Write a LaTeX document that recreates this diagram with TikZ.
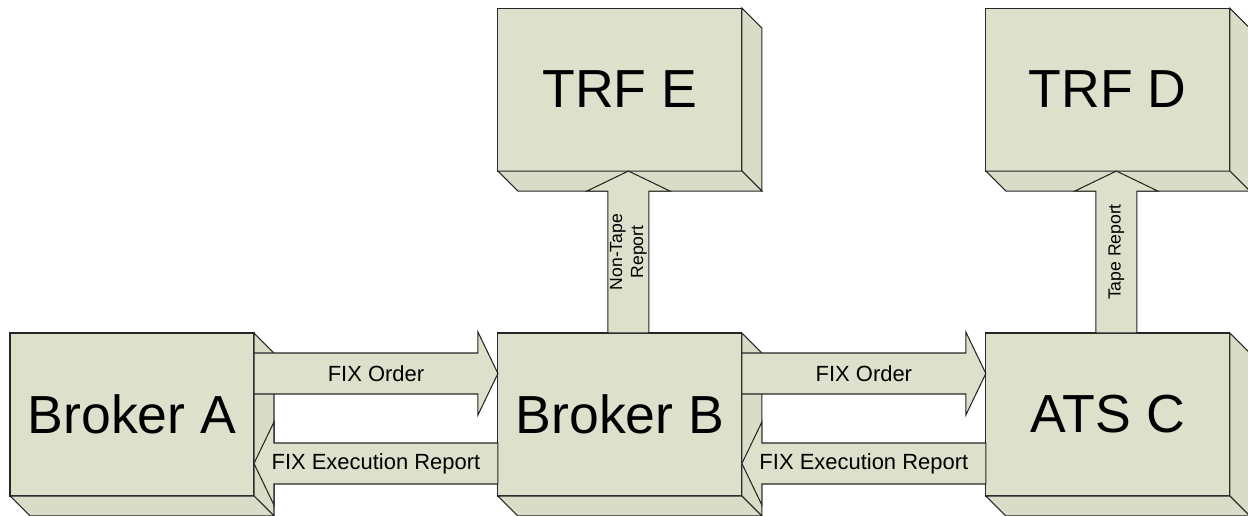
\documentclass[tikz,border=0pt]{standalone}
\usepackage{fontspec}
\setmainfont{Liberation Sans}
\usetikzlibrary{positioning,calc}

\definecolor{boxface}{RGB}{221,224,203}
\definecolor{boxside}{RGB}{217,221,200}

\begin{document}
\begin{tikzpicture}[
  x=0.02cm, y=-0.02cm,
  boxnode/.style={draw=black!85, fill=boxface, line width=0.6pt, minimum width=4.88cm, minimum height=3.26cm, inner sep=0pt, outer sep=0pt, font=\fontsize{30.5}{36}\selectfont},
  sideface/.style={draw=black!85, fill=boxside, line width=0.6pt},
  fatarrow/.style={draw=black!85, fill=boxface, line width=0.6pt},
  arrowtext/.style={font=\fontsize{12.5}{15}\selectfont, inner sep=0pt},
  vtext/.style={font=\fontsize{10}{12}\selectfont, inner sep=0pt, rotate=90, align=center}
]
  \useasboundingbox (0,0) rectangle (1248,516);

  \node[boxnode] (brokerA) at (132,414.5) {Broker A};
  \node[boxnode, right=4.88cm of brokerA] (brokerB) {Broker B};
  \node[boxnode, right=4.88cm of brokerB] (atsC) {ATS C};
  \node[boxnode, above=3.24cm of brokerB] (trfE) {TRF E};
  \node[boxnode, above=3.24cm of atsC] (trfD) {TRF D};

  % depth of the boxes
  \foreach \b in {brokerA,brokerB,atsC,trfE,trfD} {
    \draw[sideface] (\b.north east) -- ++(20,20) -- ++(0,163) -- (\b.south east) -- cycle;
    \draw[sideface] (\b.south west) -- ++(20,20) -- ++(244,0) -- (\b.south east) -- cycle;
  }

  % order and execution report
  \foreach \s/\t in {brokerA/brokerB, brokerB/atsC} {
    \draw[fatarrow] ($(\s.north east)+(0,20)$) -- ($(\t.north west)+(-20,20)$)
      -- ($(\t.north west)+(-20,-1)$) -- ($(\t.north west)+(0,40.5)$)
      -- ($(\t.north west)+(-20,82)$) -- ($(\t.north west)+(-20,61)$)
      -- ($(\s.north east)+(0,61)$) -- cycle;
    \draw[fatarrow] ($(\t.north west)+(0,110)$) -- ($(\s.north east)+(20,110)$)
      -- ($(\s.north east)+(20,89)$) -- ($(\s.north east)+(0,130.5)$)
      -- ($(\s.north east)+(20,172)$) -- ($(\s.north east)+(20,151)$)
      -- ($(\t.north west)+(0,151)$) -- cycle;
    \node[arrowtext] (order\s) at ($(\s.north east)!0.5!(\t.north west)+(0,40.5)$) {FIX Order};
    \node[arrowtext] (exec\t) at ($(\s.north east)!0.5!(\t.north west)+(0,131)$) {FIX Execution Report};
  }

  % trade reports
  \foreach \s/\t/\l in {brokerB/trfE/{Non-Tape\\Report}, atsC/trfD/{Tape Report}} {
    \draw[fatarrow] ($(\s.north west)+(110,0)$) -- ($(\t.south west)+(110,20)$)
      -- ($(\t.south west)+(89,20)$) -- ($(\t.south west)+(130.5,0)$)
      -- ($(\t.south west)+(172,20)$) -- ($(\t.south west)+(151,20)$)
      -- ($(\s.north west)+(151,0)$) -- cycle;
    \node[vtext] (report\s) at ($(\s.north west)!0.5!(\t.south west)+(130.5,0)$) {\l};
  }
\end{tikzpicture}
\end{document}
